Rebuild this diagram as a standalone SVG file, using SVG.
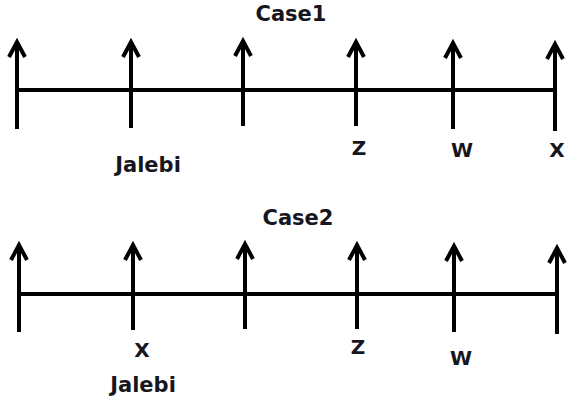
<svg xmlns="http://www.w3.org/2000/svg" width="568" height="401" viewBox="0 0 568 401">
  <style>
    .tick { stroke: #000; stroke-width: 4; fill: none; marker-end: url(#head); }
    .axis { stroke: #000; stroke-width: 4; fill: none; }
    .word { font-family: "DejaVu Sans", Verdana, sans-serif; font-weight: bold; font-size: 21px; fill: #16161e; text-anchor: middle; }
    .letter { font-family: "DejaVu Sans", Verdana, sans-serif; font-weight: bold; font-size: 20px; fill: #16161e; text-anchor: middle; }
  </style>
  <defs>
    <marker id="head" markerUnits="userSpaceOnUse" viewBox="-20 -12 24 24" markerWidth="24" markerHeight="24" refX="0" refY="0" orient="auto" overflow="visible">
      <path d="M -15 -8 L 0 0 L -15 8" stroke="#000" stroke-width="4" fill="none" stroke-linejoin="miter"/>
    </marker>
  </defs>
  <rect width="568" height="401" fill="#fff"/>

  <g id="title1"><text class="word" x="291" y="21">Case1</text></g>
  <g id="connectors">
    <line class="axis" x1="17" y1="90" x2="555" y2="90"/>
    <line class="axis" x1="19" y1="294" x2="557" y2="294"/>
  </g>
  <g id="c1-t1"><line class="tick" x1="17" y1="129" x2="17" y2="42"/></g>
  <g id="c1-t2"><line class="tick" x1="131" y1="128" x2="131" y2="42"/>
    <text class="word" x="148" y="172">Jalebi</text></g>
  <g id="c1-t3"><line class="tick" x1="243" y1="126" x2="243" y2="41"/></g>
  <g id="c1-t4"><line class="tick" x1="356" y1="126" x2="356" y2="42"/>
    <text class="letter" x="359" y="155">Z</text></g>
  <g id="c1-t5"><line class="tick" x1="453" y1="129" x2="453" y2="43"/>
    <text class="letter" x="462" y="157">W</text></g>
  <g id="c1-t6"><line class="tick" x1="555" y1="131" x2="555" y2="44"/>
    <text class="letter" x="557" y="157">X</text></g>

  <g id="title2"><text class="word" x="298" y="225">Case2</text></g>
  <g id="c2-t1"><line class="tick" x1="19" y1="332" x2="19" y2="245"/></g>
  <g id="c2-t2"><line class="tick" x1="133" y1="330" x2="133" y2="245"/>
    <text class="letter" x="142" y="357">X</text>
    <text class="word" x="143" y="392">Jalebi</text></g>
  <g id="c2-t3"><line class="tick" x1="245" y1="329" x2="245" y2="244"/></g>
  <g id="c2-t4"><line class="tick" x1="357" y1="329" x2="357" y2="245"/>
    <text class="letter" x="358" y="354">Z</text></g>
  <g id="c2-t5"><line class="tick" x1="454" y1="332" x2="454" y2="246"/>
    <text class="letter" x="461" y="365">W</text></g>
  <g id="c2-t6"><line class="tick" x1="557" y1="334" x2="557" y2="248"/></g>
</svg>
